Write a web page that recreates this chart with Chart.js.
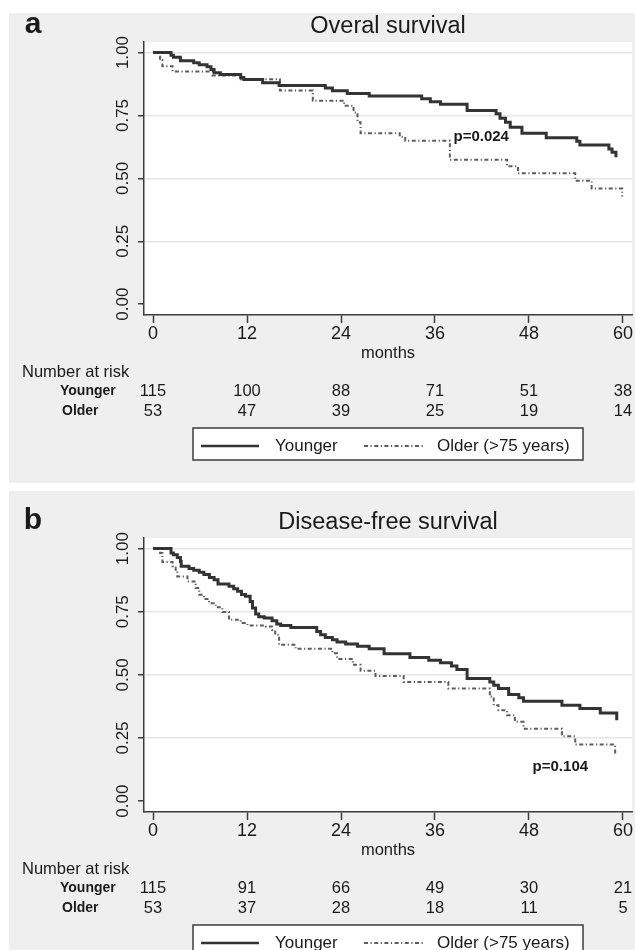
<!DOCTYPE html>
<html>
<head>
<meta charset="utf-8">
<title>Overall and disease-free survival</title>
<script src="https://cdn.jsdelivr.net/npm/chart.js@4.4.1/dist/chart.umd.min.js"></script>
<style>
  body { margin: 0; background: #fff; width: 635px; height: 950px; position: relative; overflow: hidden; }
  canvas { position: absolute; left: 9px; background: #efefef; }
  #chartA { top: 13px; }
  #chartB { top: 491px; }
</style>
</head>
<body>
<canvas id="chartA" width="626" height="470"></canvas>
<canvas id="chartB" width="626" height="459"></canvas>

<script>
// Kaplan-Meier steps: survival holds from that month on
var OS_YOUNG_MONTHS = [0, 2.3, 2.6, 3.5, 5.2, 5.9, 6.9, 7.4, 7.8, 8.6, 11.2, 11.6, 14.0, 16.1, 22.0, 22.9, 24.8, 27.6, 34.3, 35.4, 36.7, 40.1, 43.8, 44.3, 45.0, 45.6, 47.1, 50.2, 54.1, 54.5, 58.2, 58.6, 59.1];
var OS_YOUNG_SURV = [1, 0.989, 0.981, 0.967, 0.960, 0.952, 0.944, 0.933, 0.920, 0.913, 0.901, 0.893, 0.880, 0.869, 0.859, 0.848, 0.837, 0.827, 0.816, 0.805, 0.795, 0.770, 0.757, 0.739, 0.723, 0.703, 0.679, 0.661, 0.648, 0.633, 0.617, 0.604, 0.584];
var OS_OLD_MONTHS = [0, 0.9, 1.2, 2.5, 7.6, 11.2, 16.2, 20.4, 24.4, 25.6, 26.1, 26.5, 31.5, 32.2, 37.9, 45.2, 46.6, 53.9, 56.0, 59.9];
var OS_OLD_SURV = [1, 0.970, 0.946, 0.925, 0.909, 0.894, 0.849, 0.809, 0.789, 0.762, 0.723, 0.679, 0.665, 0.650, 0.574, 0.548, 0.520, 0.491, 0.460, 0.428];

var DFS_YOUNG_MONTHS = [0, 2.3, 2.6, 3.1, 3.5, 3.6, 4.6, 5.2, 5.9, 6.5, 7.2, 7.8, 8.3, 9.7, 10.3, 10.8, 11.3, 11.8, 12.4, 12.7, 13.1, 13.5, 14.2, 15.2, 15.8, 16.3, 17.6, 20.9, 21.4, 22.0, 22.9, 23.5, 24.6, 26.1, 27.6, 29.5, 32.8, 35.2, 36.7, 38.1, 38.8, 40.1, 43.0, 43.5, 44.1, 45.4, 46.7, 47.3, 52.2, 54.5, 57.1, 59.2];
var DFS_YOUNG_SURV = [1, 0.983, 0.976, 0.965, 0.950, 0.930, 0.921, 0.914, 0.906, 0.897, 0.886, 0.877, 0.860, 0.851, 0.841, 0.831, 0.818, 0.811, 0.791, 0.765, 0.741, 0.730, 0.725, 0.714, 0.701, 0.696, 0.688, 0.672, 0.659, 0.648, 0.639, 0.630, 0.622, 0.613, 0.603, 0.584, 0.569, 0.558, 0.548, 0.535, 0.521, 0.486, 0.472, 0.459, 0.446, 0.422, 0.409, 0.396, 0.380, 0.367, 0.349, 0.320];
var DFS_OLD_MONTHS = [0, 0.9, 1.2, 2.5, 2.9, 3.1, 4.4, 5.45, 5.9, 6.5, 7.15, 8.0, 8.85, 9.7, 11.2, 12.05, 14.4, 15.2, 15.6, 16.1, 18.2, 22.9, 23.5, 25.5, 26.5, 28.4, 32.0, 37.7, 43.0, 43.5, 44.1, 45.2, 46.2, 47.3, 52.2, 53.9, 59.0];
var DFS_OLD_SURV = [1, 0.983, 0.947, 0.930, 0.916, 0.890, 0.870, 0.844, 0.817, 0.800, 0.784, 0.768, 0.749, 0.718, 0.705, 0.696, 0.692, 0.678, 0.659, 0.619, 0.603, 0.586, 0.563, 0.540, 0.516, 0.496, 0.472, 0.446, 0.413, 0.380, 0.360, 0.340, 0.314, 0.287, 0.257, 0.224, 0.188];

// number at risk table
var RISK_MONTHS = [0, 12, 24, 36, 48, 60];
var OS_RISK_YOUNG = [115, 100, 88, 71, 51, 38];
var OS_RISK_OLD = [53, 47, 39, 25, 19, 14];
var DFS_RISK_YOUNG = [115, 91, 66, 49, 30, 21];
var DFS_RISK_OLD = [53, 37, 28, 18, 11, 5];

var X_TICKS = [0, 12, 24, 36, 48, 60];
var Y_TICKS = [0, 0.25, 0.5, 0.75, 1];
var SERIES_NAMES = ['Younger', 'Older (>75 years)'];

var FONT = '"Liberation Sans", Arial, sans-serif';
Chart.defaults.font.family = FONT;

function toPoints(months, surv) {
    return months.map(function(m, i) { return { x: m, y: surv[i] }; });
}

function panelPlugin(p) {
    return {
        id: 'panel' + p.letter,
        beforeDraw: function(chart) {
            var a = chart.chartArea, ctx = chart.ctx;
            ctx.save();
            ctx.fillStyle = '#ffffff';
            ctx.fillRect(a.left, a.top, a.right - a.left, a.bottom - a.top);
            ctx.restore();
        },
        afterDraw: function(chart) {
            var ctx = chart.ctx, a = chart.chartArea;
            var xs = chart.scales.x, ys = chart.scales.y;
            var mid = (a.left + a.right) / 2;
            ctx.save();
            ctx.fillStyle = '#1a1a1a';
            ctx.textBaseline = 'middle';
            ctx.textAlign = 'center';

            ctx.font = 'bold 30px ' + FONT;
            ctx.fillText(p.letter, 24, a.top - 17);
            ctx.font = '23.5px ' + FONT;
            ctx.fillText(p.title, mid, a.top - 15);

            // y tick labels, turned like in Stata
            ctx.font = '17px ' + FONT;
            Y_TICKS.forEach(function(v) {
                ctx.save();
                ctx.translate(a.left - 21, ys.getPixelForValue(v));
                ctx.rotate(-Math.PI / 2);
                ctx.fillText(v.toFixed(2), 0, 0);
                ctx.restore();
            });

            ctx.font = '16.5px ' + FONT;
            ctx.fillText('months', mid, a.bottom + 38);

            // number at risk
            ctx.textAlign = 'left';
            ctx.fillText('Number at risk', 13, a.bottom + 57);
            ctx.font = 'bold 14px ' + FONT;
            ctx.fillText('Younger', 51, a.bottom + 76);
            ctx.fillText('Older', 53, a.bottom + 96);
            ctx.font = '16.5px ' + FONT;
            ctx.textAlign = 'center';
            RISK_MONTHS.forEach(function(m, i) {
                var x = xs.getPixelForValue(m);
                ctx.fillText(String(p.riskYoung[i]), x, a.bottom + 76);
                ctx.fillText(String(p.riskOld[i]), x, a.bottom + 96);
            });

            // p value
            ctx.font = 'bold 15px ' + FONT;
            ctx.fillText(p.pText, xs.getPixelForValue(p.pAt[0]), ys.getPixelForValue(p.pAt[1]));

            // legend box
            var top = a.bottom + 113, ly = top + 18;
            ctx.fillStyle = '#ffffff';
            ctx.fillRect(184, top, 390, 32);
            ctx.strokeStyle = '#3c3c3c';
            ctx.lineWidth = 1.5;
            ctx.strokeRect(184, top, 390, 32);
            var spots = [[192, 250, 266], [355, 416, 428]];
            chart.data.datasets.forEach(function(ds, i) {
                ctx.beginPath();
                ctx.strokeStyle = ds.borderColor;
                ctx.lineWidth = Math.min(ds.borderWidth, 2.5);
                ctx.setLineDash(ds.borderDash || []);
                ctx.moveTo(spots[i][0], ly);
                ctx.lineTo(spots[i][1], ly);
                ctx.stroke();
                ctx.setLineDash([]);
                ctx.fillStyle = '#1a1a1a';
                ctx.font = '17px ' + FONT;
                ctx.textAlign = 'left';
                ctx.fillText(ds.label, spots[i][2], ly);
            });
            ctx.restore();
        }
    };
}

function makeKM(p) {
    var ctx = document.getElementById(p.id).getContext('2d');
    return new Chart(ctx, {
        type: 'line',
        data: {
            datasets: [{
                label: SERIES_NAMES[0],
                data: toPoints(p.youngMonths, p.youngSurv),
                borderColor: '#333333',
                borderWidth: 3,
                stepped: true,
                pointRadius: 0
            }, {
                label: SERIES_NAMES[1],
                data: toPoints(p.oldMonths, p.oldSurv),
                borderColor: '#5c5c5c',
                borderWidth: 2,
                borderDash: [4, 2.5, 1.2, 2.5],
                stepped: true,
                pointRadius: 0
            }]
        },
        options: {
            responsive: false,
            animation: false,
            devicePixelRatio: 1,
            layout: { padding: { top: p.padTop, right: 3, left: 0, bottom: 0 } },
            plugins: { legend: { display: false }, tooltip: { enabled: false } },
            scales: {
                x: {
                    type: 'linear',
                    min: -1.149,
                    max: 61.149,
                    afterBuildTicks: function(s) { s.ticks = X_TICKS.map(function(v) { return { value: v }; }); },
                    afterFit: function(s) { s.height = p.padBottom; },
                    grid: { drawOnChartArea: false, tickLength: 8, tickColor: '#3c3c3c', tickWidth: 1.5 },
                    border: { color: '#3c3c3c', width: 1.5 },
                    ticks: { font: { size: 18 }, color: '#1a1a1a', padding: 0, maxRotation: 0, autoSkip: false }
                },
                y: {
                    type: 'linear',
                    min: -0.043,
                    max: 1.042,
                    afterBuildTicks: function(s) { s.ticks = Y_TICKS.map(function(v) { return { value: v }; }); },
                    afterFit: function(s) { s.width = 135; },
                    grid: {
                        color: function(c) { return c.tick && c.tick.value === 0 ? 'rgba(0,0,0,0)' : '#e6e6e6'; },
                        lineWidth: 1.5,
                        tickLength: 6,
                        tickColor: '#3c3c3c',
                        tickWidth: 1.5
                    },
                    border: { color: '#3c3c3c', width: 1.5 },
                    ticks: { display: false }
                }
            }
        },
        plugins: [panelPlugin(p)]
    });
}

makeKM({
    id: 'chartA', letter: 'a', title: 'Overal survival',
    youngMonths: OS_YOUNG_MONTHS, youngSurv: OS_YOUNG_SURV,
    oldMonths: OS_OLD_MONTHS, oldSurv: OS_OLD_SURV,
    riskYoung: OS_RISK_YOUNG, riskOld: OS_RISK_OLD,
    pText: 'p=0.024', pAt: [41.9, 0.665],
    padTop: 29, padBottom: 168
});

makeKM({
    id: 'chartB', letter: 'b', title: 'Disease-free survival',
    youngMonths: DFS_YOUNG_MONTHS, youngSurv: DFS_YOUNG_SURV,
    oldMonths: DFS_OLD_MONTHS, oldSurv: DFS_OLD_SURV,
    riskYoung: DFS_RISK_YOUNG, riskOld: DFS_RISK_OLD,
    pText: 'p=0.104', pAt: [52.0, 0.135],
    padTop: 47, padBottom: 138
});
</script>
</body>
</html>
